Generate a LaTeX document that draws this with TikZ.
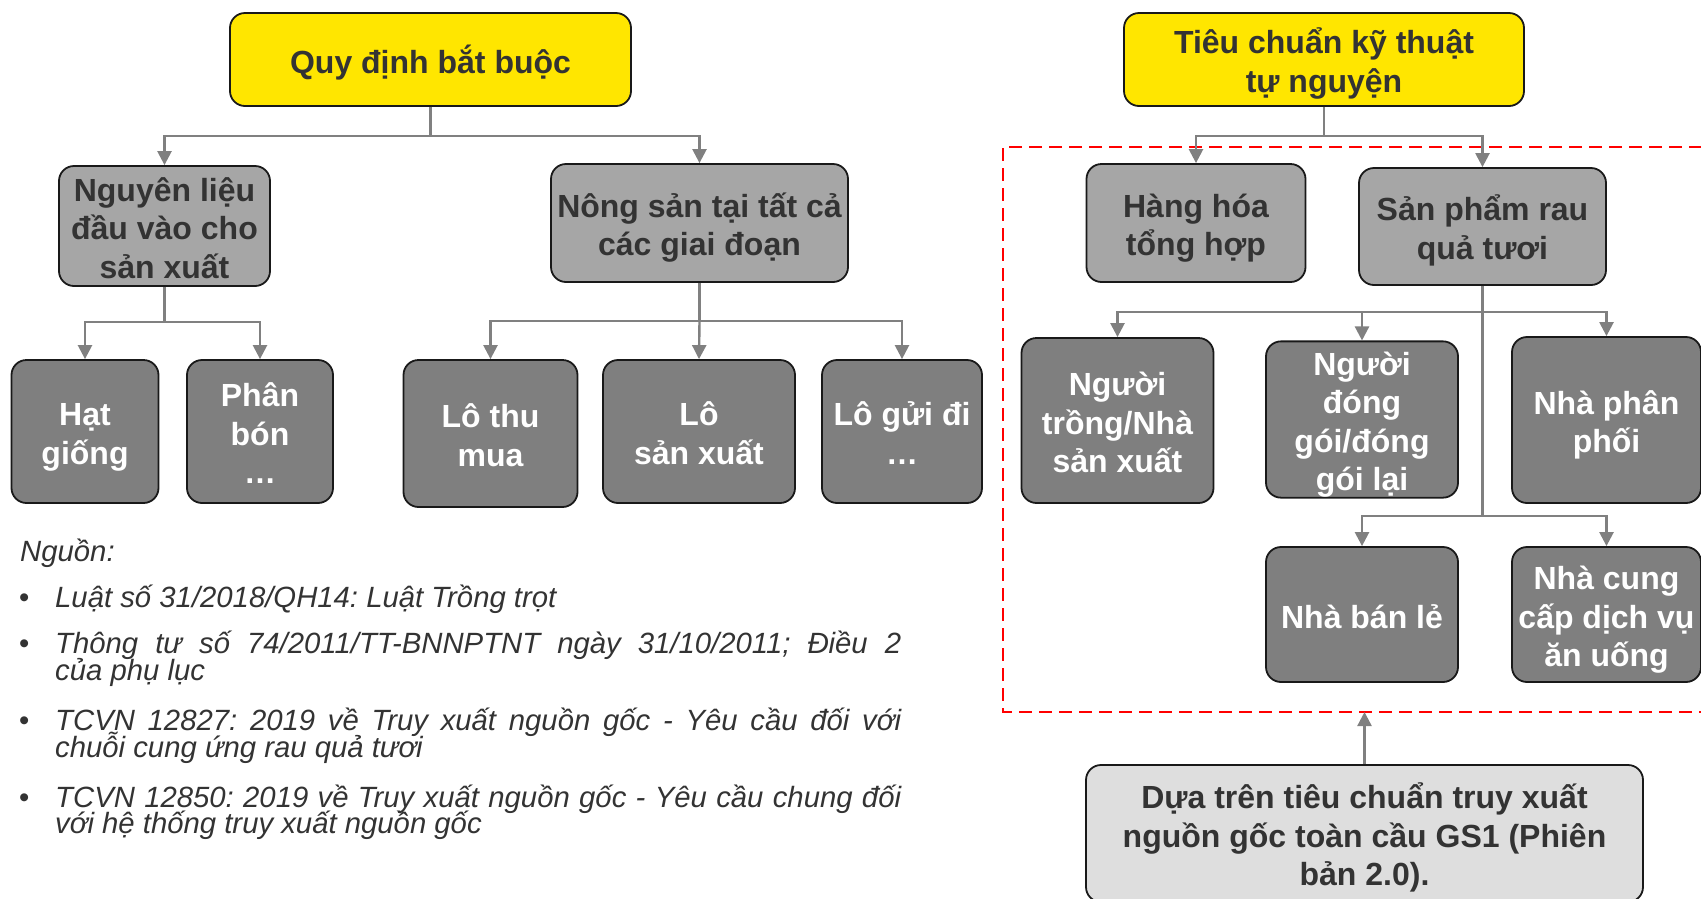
\documentclass[tikz,border=0pt]{standalone}
\usepackage{fontspec}
\setmainfont{Liberation Sans}
\usetikzlibrary{arrows.meta}
\definecolor{eyyellow}{HTML}{FFE600}
\definecolor{boxlight}{HTML}{A6A6A6}
\definecolor{boxdark}{HTML}{7F7F7F}
\definecolor{boxpale}{HTML}{DEDEDE}
\definecolor{txtdark}{HTML}{333333}
\definecolor{connc}{HTML}{808080}
\definecolor{dashred}{HTML}{FF0000}
\newcommand{\tsT}{\rule{0pt}{34pt}}
\newcommand{\tsB}{\rule[-6.8pt]{0pt}{6.8pt}}
\frenchspacing
\begin{document}
\begin{tikzpicture}[x=1pt,y=-1pt,
 box/.style={draw=black!90, line width=1.8pt, rounded corners=15pt, inner sep=0pt, align=center,
   font=\fontsize{32}{38.5}\selectfont\bfseries},
 ybox/.style={box, fill=eyyellow, text=txtdark},
 lbox/.style={box, fill=boxlight, text=txtdark},
 dbox/.style={box, fill=boxdark, text=white},
 pbox/.style={box, fill=boxpale, text=txtdark},
 conn/.style={draw=connc, line width=2.4pt, -{Triangle[width=14pt,length=14pt]}},
 trunk/.style={draw=connc, line width=2.4pt},
 src/.style={anchor=base west, inner sep=0pt, text=txtdark, font=\fontsize{29.3}{29.3}\selectfont\itshape},
 bul/.style={anchor=base west, inner sep=0pt, text=txtdark, font=\fontsize{29.3}{29.3}\selectfont},
]
\useasboundingbox (0,0) rectangle (1701,898);
\clip (0,0) rectangle (1701,898);

% red dashed frame
\draw[dashred, line width=2pt, dash pattern=on 13pt off 7pt] (1702,147) -- (1003,147) -- (1003,712) -- (1702,712);

% left tree
\node[ybox, minimum width=401pt, minimum height=93pt] (quy) at (430.5,59.5) {\tsT Quy định bắt buộc\tsB};
\node[lbox, minimum width=211pt, minimum height=120pt] (nguyen) at (164.5,226) {\tsT Nguyên liệu\\đầu vào cho\\sản xuất\tsB};
\node[lbox, minimum width=297pt, minimum height=118pt] (nong) at (699.5,223) {\tsT Nông sản tại tất cả\\các giai đoạn\tsB};
\node[dbox, minimum width=147pt, minimum height=143pt] (hat) at (85,431.5) {\tsT Hạt\\giống\tsB};
\node[dbox, minimum width=146pt, minimum height=143pt] (phan) at (260,431.5) {\tsT Phân\\bón\\…\tsB};
\node[dbox, minimum width=174pt, minimum height=147pt] (lothu) at (490.5,433.5) {\tsT Lô thu\\mua\tsB};
\node[dbox, minimum width=192pt, minimum height=143pt] (losx) at (699,431.5) {\tsT Lô\\sản xuất\tsB};
\node[dbox, minimum width=160pt, minimum height=143pt] (logui) at (902,431.5) {\tsT Lô gửi đi\\…\tsB};

\coordinate (bq) at (430.5,136);
\draw[trunk] (quy.south) -- (bq);
\draw[conn] (bq) -| (nguyen.north);
\draw[conn] (bq) -| (nong.north);
\coordinate (bn) at (164.5,322);
\draw[trunk] (nguyen.south) -- (bn);
\draw[conn] (bn) -| (hat.north);
\draw[conn] (bn) -| (phan.north);
\coordinate (bs) at (699.5,321);
\draw[trunk] (nong.south) -- (bs);
\draw[conn] (bs) -| (lothu.north);
\draw[conn] (bs) -- (losx.north);
\draw[conn] (bs) -| (logui.north);

% right tree
\node[ybox, minimum width=400pt, minimum height=93pt] (tieu) at (1324,59.5) {\tsT Tiêu chuẩn kỹ thuật\\tự nguyện\tsB};
\node[lbox, minimum width=219pt, minimum height=118pt] (hang) at (1196,223) {\tsT Hàng hóa\\tổng hợp\tsB};
\node[lbox, minimum width=247pt, minimum height=117pt] (sanpham) at (1482.5,226.5) {\tsT Sản phẩm rau\\quả tươi\tsB};
\node[dbox, minimum width=192pt, minimum height=165pt] (nguoitrong) at (1117.5,420.5) {\tsT Người\\trồng/Nhà\\sản xuất\tsB};
\node[dbox, minimum width=192pt, minimum height=155pt] (donggoi) at (1362,419.5) {\tsT Người\\đóng\\gói/đóng\\gói lại\tsB};
\node[dbox, minimum width=189pt, minimum height=166pt] (nhaphan) at (1606.5,420) {\tsT Nhà phân\\phối\tsB};
\node[dbox, minimum width=192pt, minimum height=135pt] (banle) at (1362,614.5) {\tsT Nhà bán lẻ\tsB};
\node[dbox, minimum width=189pt, minimum height=135pt] (cungcap) at (1606.5,614.5) {\tsT Nhà cung\\cấp dịch vụ\\ăn uống\tsB};
\node[pbox, minimum width=557pt, minimum height=137pt] (dua) at (1364.5,833.5) {\tsT Dựa trên tiêu chuẩn truy xuất\\nguồn gốc toàn cầu GS1 (Phiên\\bản 2.0).\tsB};

\coordinate (bt) at (1324,136);
\draw[trunk] (tieu.south) -- (bt);
\draw[conn] (bt) -| (hang.north);
\draw[conn] (bt) -| (sanpham.north);
\coordinate (t1) at (1482.5,312);
\coordinate (t2) at (1482.5,516);
\draw[trunk] (sanpham.south) -- (t2);
\draw[conn] (t1) -| (nguoitrong.north);
\draw[conn] (t1) -| (donggoi.north);
\draw[conn] (t1) -| (nhaphan.north);
\draw[conn] (t2) -| (banle.north);
\draw[conn] (t2) -| (cungcap.north);
\coordinate (rb) at (1364.5,712);
\draw[conn] (dua.north) -- (rb);

% sources
\node[src] (nguon) at (20,561) {Nguồn:};
\node[bul] (u1) at (19,607) {•};
\node[src] (s1) at (55,607) {Luật số 31/2018/QH14: Luật Trồng trọt};
\node[bul] (u2) at (19,653) {•};
\node[src] (s2a) at (55,653) {\makebox[846pt][s]{Thông tư số 74/2011/TT-BNNPTNT ngày 31/10/2011; Điều 2}};
\node[src] (s2b) at (55,680) {của phụ lục};
\node[bul] (u3) at (19,730) {•};
\node[src] (s3a) at (55,730) {\makebox[846pt][s]{TCVN 12827: 2019 về Truy xuất nguồn gốc - Yêu cầu đối với}};
\node[src] (s3b) at (55,757) {chuỗi cung ứng rau quả tươi};
\node[bul] (u4) at (19,807) {•};
\node[src] (s4a) at (55,807) {\makebox[846pt][s]{TCVN 12850: 2019 về Truy xuất nguồn gốc - Yêu cầu chung đối}};
\node[src] (s4b) at (55,833) {với hệ thống truy xuất nguồn gốc};
\end{tikzpicture}
\end{document}
